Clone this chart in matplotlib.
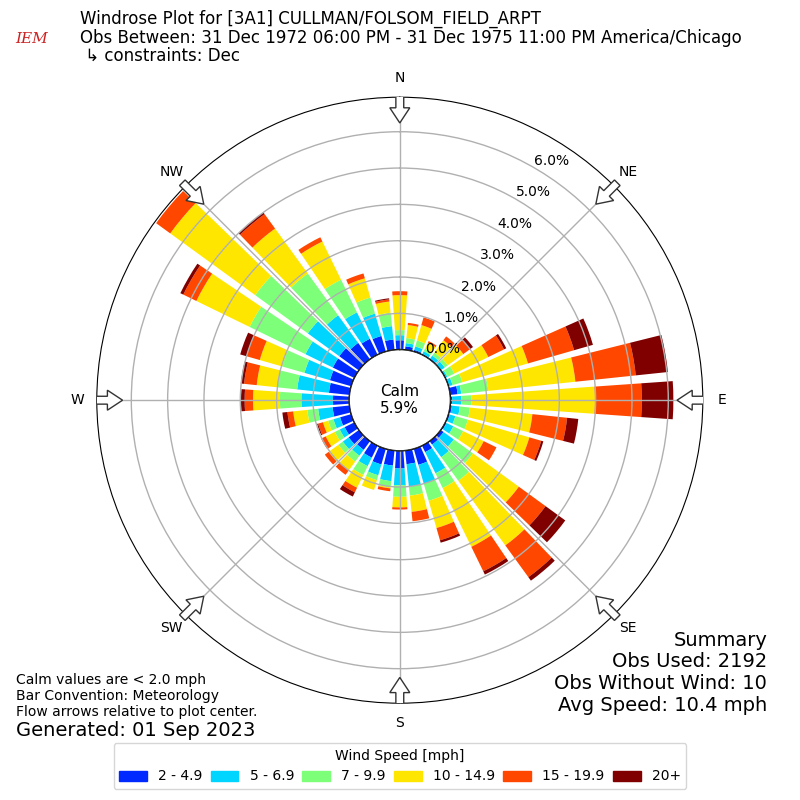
import numpy as np
import matplotlib
matplotlib.use("Agg")
import matplotlib.pyplot as plt
from matplotlib.patches import FancyArrow, Patch

# direction bins (deg, meteorological) and percent of obs per speed class
directions = np.arange(0, 360, 10)
speed_labels = ["2 - 4.9", "5 - 6.9", "7 - 9.9", "10 - 14.9", "15 - 19.9", "20+"]

spd_2_5 = [0.26, 0.10, 0.05, 0.03, 0.03, 0.02, 0.02, 0.02, 0.21, 0.05, 0.05, 0.04,
           0.04, 0.10, 0.12, 0.20, 0.46, 0.38, 0.49, 0.42, 0.45, 0.37, 0.30, 0.35,
           0.30, 0.32, 0.47, 0.45, 0.57, 0.61, 0.66, 0.67, 0.56, 0.49, 0.45, 0.29]
spd_5_7 = [0.14, 0.09, 0.10, 0.08, 0.10, 0.12, 0.05, 0.10, 0.10, 0.26, 0.22, 0.16,
           0.21, 0.35, 0.43, 0.65, 0.54, 0.62, 0.46, 0.43, 0.31, 0.26, 0.20, 0.20,
           0.15, 0.19, 0.40, 0.87, 0.88, 0.73, 0.84, 1.07, 0.94, 0.81, 0.64, 0.37]
spd_7_10 = [0.14, 0.14, 0.17, 0.08, 0.10, 0.10, 0.21, 0.28, 0.75, 0.27, 0.28, 0.36,
            0.30, 0.65, 0.80, 0.45, 0.49, 0.25, 0.32, 0.17, 0.14, 0.27, 0.20, 0.15,
            0.15, 0.15, 0.30, 0.59, 0.55, 0.64, 1.71, 1.79, 1.42, 1.00, 0.46, 0.37]
spd_10_15 = [0.96, 0.36, 0.44, 0.18, 0.42, 0.53, 1.04, 1.88, 2.41, 3.40, 1.73, 1.76,
             0.63, 1.56, 2.20, 1.80, 0.78, 0.45, 0.29, 0.03, 0.28, 0.39, 0.29, 0.33,
             0.28, 0.15, 0.39, 0.74, 0.57, 0.64, 1.63, 2.89, 1.53, 1.17, 0.55, 0.31]
spd_15_20 = [0.11, 0.06, 0.22, 0.05, 0.13, 0.22, 0.48, 1.32, 1.67, 1.29, 0.96, 0.34,
             0.39, 0.91, 1.08, 0.75, 0.35, 0.26, 0.06, 0.08, 0.00, 0.14, 0.16, 0.13,
             0.14, 0.14, 0.16, 0.23, 0.35, 0.38, 0.40, 0.48, 0.49, 0.13, 0.14, 0.06]
spd_20 = [0.00, 0.00, 0.00, 0.00, 0.00, 0.11, 0.07, 0.54, 0.89, 0.87, 0.31, 0.06,
          0.00, 0.67, 0.12, 0.10, 0.07, 0.00, 0.00, 0.00, 0.00, 0.13, 0.00, 0.00,
          0.00, 0.03, 0.14, 0.10, 0.09, 0.18, 0.09, 0.00, 0.06, 0.00, 0.00, 0.03]

calm_pct = 5.9
rticks = [0, 1, 2, 3, 4, 5, 6]
compass = ["N", "NE", "E", "SE", "S", "SW", "W", "NW"]

series = [spd_2_5, spd_5_7, spd_7_10, spd_10_15, spd_15_20, spd_20]
colors = plt.cm.jet(np.linspace(0, 1, 7)[1:])

fig = plt.figure(figsize=(8, 8), dpi=100)
rect = [0.121, 0.121, 0.7575, 0.7575]
ax = fig.add_axes(rect, projection="polar")
ax.set_theta_zero_location("N")
ax.set_theta_direction(-1)

theta = np.deg2rad(directions)
width = np.deg2rad(8)
base = np.zeros(len(directions))
for vals, col in zip(series, colors):
    vals = np.array(vals)
    ax.bar(theta, vals, width=width, bottom=base, color=col, edgecolor="none", zorder=2)
    base = base + vals

ax.set_rorigin(-1.39)
ax.set_ylim(0, 6.95)
ax.set_axisbelow(False)
ax.set_rticks(rticks)
ax.set_yticklabels(["%.1f%%" % r for r in rticks])
ax.set_rlabel_position(30)
ax.set_xticks(np.deg2rad(np.arange(0, 360, 45)))
ax.set_xticklabels(compass)
ax.tick_params(axis="x", pad=3.5)
ax.grid(True, color="#b0b0b0", lw=1)
ax.spines["inner"].set_visible(False)

# calm circle
tt = np.linspace(0, 2 * np.pi, 361)
ax.plot(tt, np.zeros_like(tt), color="k", lw=1.2, zorder=5)
ax.text(0.5, 0.5, "Calm\n%.1f%%" % calm_pct, transform=ax.transAxes,
        ha="center", va="center", fontsize=11, zorder=6)

# flow arrows on the rim
ax2 = fig.add_axes(rect, frameon=False)
ax2.set_xlim(-1, 1)
ax2.set_ylim(-1, 1)
ax2.axis("off")
for deg in np.arange(0, 360, 45):
    a = np.deg2rad(deg)
    ux, uy = np.sin(a), np.cos(a)
    r0, r1 = 1.015, 0.915
    ax2.add_patch(FancyArrow(r0 * ux, r0 * uy, (r1 - r0) * ux, (r1 - r0) * uy,
                             width=0.026, head_width=0.066, head_length=0.05,
                             length_includes_head=True, fc="white", ec="#333333",
                             lw=1, zorder=10))

# header
fig.text(0.019, 0.951, "IEM", color="#cc2222", fontsize=11, family="DejaVu Serif",
         style="italic", ha="left", va="center")
fig.text(0.1, 0.976, "Windrose Plot for [3A1] CULLMAN/FOLSOM_FIELD_ARPT",
         fontsize=12, ha="left", va="center")
fig.text(0.1, 0.9525,
         "Obs Between: 31 Dec 1972 06:00 PM - 31 Dec 1975 11:00 PM America/Chicago",
         fontsize=12, ha="left", va="center")
fig.text(0.1, 0.93, " \u21b3 constraints: Dec", fontsize=12, ha="left", va="center")

# footer notes
fig.text(0.02, 0.15, "Calm values are < 2.0 mph", fontsize=10, va="center")
fig.text(0.02, 0.13, "Bar Convention: Meteorology", fontsize=10, va="center")
fig.text(0.02, 0.11, "Flow arrows relative to plot center.", fontsize=10, va="center")
fig.text(0.02, 0.0875, "Generated: 01 Sep 2023", fontsize=14, va="center")

summary = ["Summary", "Obs Used: 2192", "Obs Without Wind: 10", "Avg Speed: 10.4 mph"]
for i, s in enumerate(summary):
    fig.text(0.959, 0.2 - i * 0.0272, s, fontsize=14, ha="right", va="center")

handles = [Patch(color=c) for c in colors]
fig.legend(handles, speed_labels, loc="lower center", bbox_to_anchor=(0.5, 0.005),
           ncol=6, title="Wind Speed [mph]", fontsize=10, title_fontsize=10,
           columnspacing=0.6)

fig.savefig("out.png", dpi=100)
